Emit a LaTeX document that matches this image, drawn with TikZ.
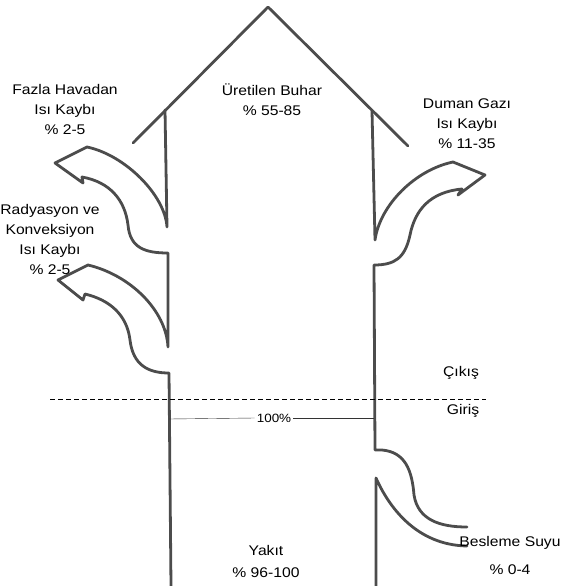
\documentclass[tikz,border=0pt]{standalone}
\usepackage{fontspec}
\setmainfont[FakeStretch=1.12]{Liberation Sans}
\usetikzlibrary{positioning,calc}

\begin{document}
\begin{tikzpicture}[
        x=1pt, y=-1pt,
        wall/.style={draw=black!70, line width=2.8pt, line join=round, line cap=round},
        cut/.style={draw=black, thin, dash pattern=on 5pt off 3pt},
        gauge/.style={draw=black!80, thin},
        lbl/.style={align=center, font=\fontsize{14}{20}\selectfont, inner sep=1pt}
    ]
    \useasboundingbox (0,0) rectangle (566,586);

    % roof of the steam arrow
    \draw[wall] (133,143) -- (268,7) -- (408,146);

    % left side: vertical, excess air loss, radiation loss
    \draw[wall] (165,110) -- (167,227)
        .. controls (165,195) and (125,155) .. (87,147)
        -- (55,163) -- (83,183) -- (82,177)
        .. controls (110,182) and (125,200) .. (128,225)
        .. controls (130,248) and (145,253) .. (168,253)
        -- (168,347)
        .. controls (166,310) and (130,275) .. (88,265)
        -- (58,280) -- (83,300) -- (85,294)
        .. controls (110,300) and (127,315) .. (130,340)
        .. controls (133,365) and (148,373) .. (169,373)
        -- (171,586);

    % right side: vertical, flue gas loss, feed water
    \draw[wall] (372,111) -- (375,240)
        .. controls (380,205) and (415,170) .. (453,162)
        -- (485,175) -- (458,195) -- (462,189)
        .. controls (430,192) and (415,210) .. (410,235)
        .. controls (405,258) and (395,265) .. (374,265)
        -- (375,450) -- (382,450)
        .. controls (405,452) and (412,470) .. (414,495)
        .. controls (418,520) and (440,527) .. (467,527);
    \draw[wall] (467,546)
        .. controls (415,545) and (388,505) .. (376,478)
        -- (376,586);

    % boundary line
    \coordinate (cutL) at (50,399);
    \coordinate (cutR) at (486,399);
    \draw[cut] (cutL) -- (cutR);

    % 100% reference
    \coordinate (refL) at (169,419);
    \coordinate (refR) at (374,418);
    \node[font=\fontsize{12}{14}\selectfont, inner sep=2pt] (full) at (274,418) {100\%};
    \draw[gauge] (refL) -- (full.west);
    \draw[gauge] (full.east) -- (refR);

    % labels
    \node[lbl] (steam) at (272,100) {Üretilen Buhar\\\% 55-85};
    \node[lbl] (excess) at (65,109) {Fazla Havadan\\Isı Kaybı\\\% 2-5};
    \node[lbl] (flue) at (467,124) {Duman Gazı\\Isı Kaybı\\\% 11-35};
    \node[lbl] (rad) at (50,239) {Radyasyon ve\\Konveksiyon\\Isı Kaybı\\\% 2-5};
    \node[lbl] (outlbl) at (461,373) {Çıkış};
    \node[lbl] (inlbl) at (463,411) {Giriş};
    \node[lbl] (fuel) at (266,561) {Yakıt\\[2pt]\% 96-100};
    \node[lbl] (feed) at (510,555) {Besleme Suyu\\[8pt]\% 0-4};
\end{tikzpicture}
\end{document}
